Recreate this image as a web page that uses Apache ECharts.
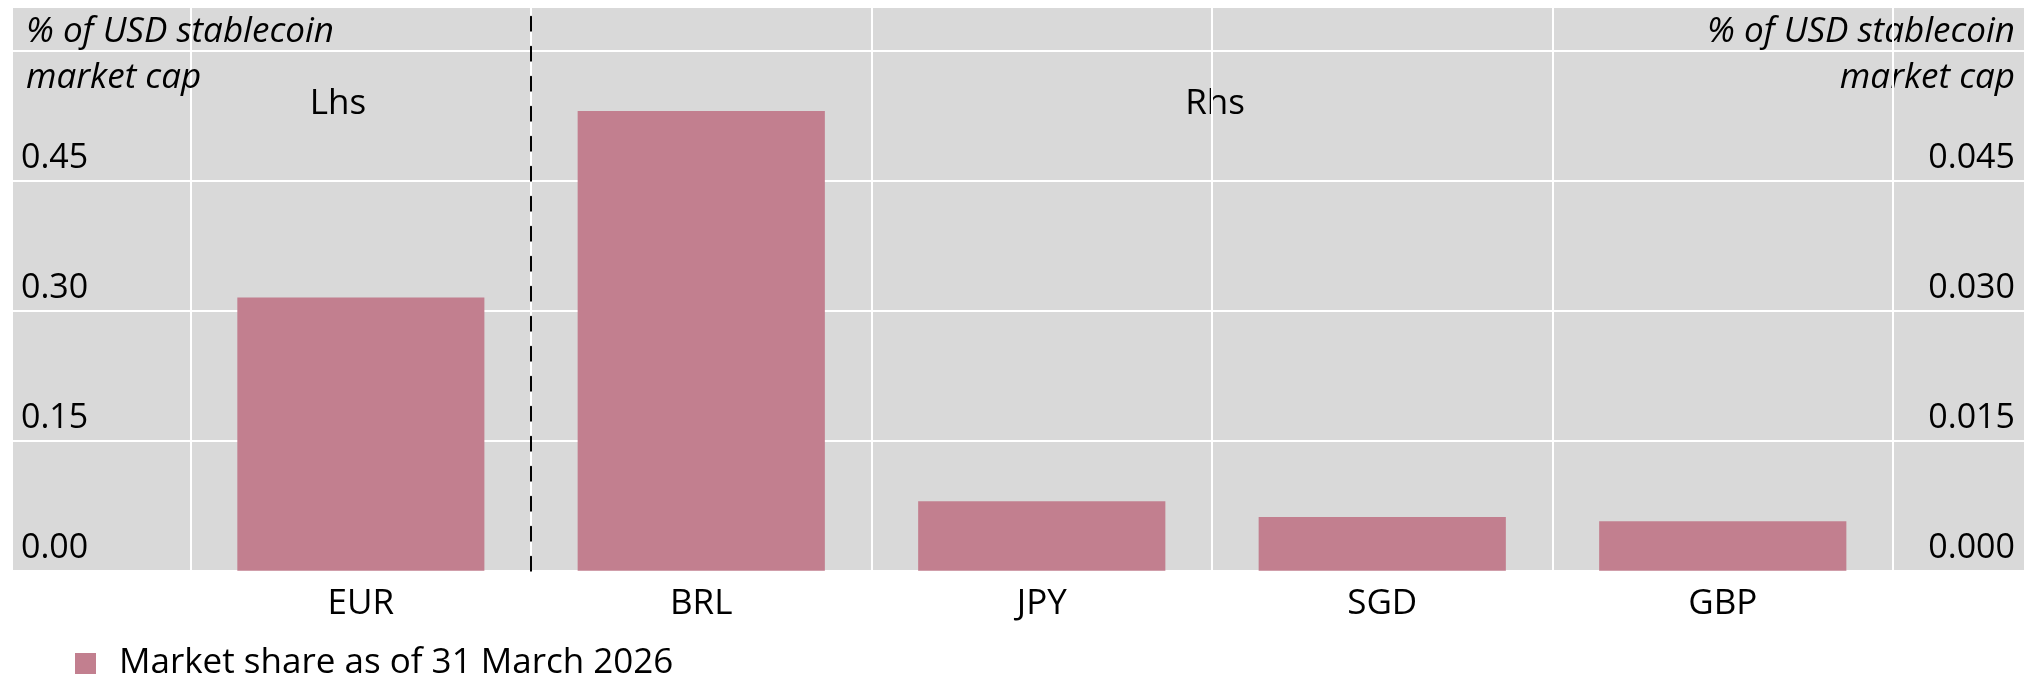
<!DOCTYPE html>
<html>
<head>
<meta charset="utf-8">
<script src="https://cdn.jsdelivr.net/npm/echarts@6/dist/echarts.min.js"></script>
<style>
  html, body { margin: 0; padding: 0; background: #fff; }
  #chart { width: 2030px; height: 679px; }
</style>
</head>
<body>
<div id="chart"></div>
<script>
// Datos
const categoriesLhs = ["EUR"];
const valuesLhs = [0.315];
const categoriesRhs = ["BRL", "JPY", "SGD", "GBP"];
const valuesRhs = [0.053, 0.008, 0.0062, 0.0057];
const leftTickLabels = ["0.00", "0.15", "0.30", "0.45"];
const rightTickLabels = ["0.000", "0.015", "0.030", "0.045"];
const seriesName = "Market share as of 31 March 2026";
const unitLabel = "% of USD stablecoin\nmarket cap";

const FONT = "'Open Sans', 'Noto Sans', sans-serif";
const BAR_COLOR = "#c27f8f";
const TOP = 7, BOTTOM = 108.3;

const chart = echarts.init(document.getElementById("chart"));

const gridLine = { show: true, lineStyle: { color: "#ffffff", width: 2 } };
const catLabel = { fontFamily: FONT, fontSize: 35, color: "#000", margin: 16 };

const option = {
  animation: false,
  backgroundColor: "#ffffff",
  textStyle: { fontFamily: FONT },

  grid: [
    // fondo gris + líneas horizontales
    { left: 13, right: 6, top: TOP, bottom: BOTTOM, show: true, backgroundColor: "#d9d9d9", borderWidth: 0 },
    // Lhs
    { left: 190.7, right: 2030 - 531, top: TOP, bottom: BOTTOM },
    // Rhs
    { left: 531, right: 2030 - 1893, top: TOP, bottom: BOTTOM }
  ],

  xAxis: [
    { gridIndex: 0, type: "value", min: 0, max: 1, show: false },
    {
      gridIndex: 1, type: "category", data: categoriesLhs,
      axisLine: { show: false }, axisTick: { show: false },
      splitLine: gridLine, axisLabel: catLabel
    },
    {
      gridIndex: 2, type: "category", data: categoriesRhs,
      axisLine: { show: false }, axisTick: { show: false },
      splitLine: gridLine, axisLabel: catLabel
    }
  ],

  yAxis: [
    {
      gridIndex: 0, type: "value", position: "left", min: 0, max: 0.65, interval: 0.15,
      axisLine: { show: false }, axisTick: { show: false },
      splitLine: gridLine,
      axisLabel: {
        inside: true, margin: 8, fontFamily: FONT, fontSize: 34, color: "#000",
        verticalAlign: "bottom", lineHeight: 45,
        formatter: (v, i) => leftTickLabels[i] || ""
      }
    },
    {
      gridIndex: 0, type: "value", position: "right", min: 0, max: 0.065, interval: 0.015,
      axisLine: { show: false }, axisTick: { show: false },
      splitLine: { show: false },
      axisLabel: {
        inside: true, margin: 9, fontFamily: FONT, fontSize: 34, color: "#000",
        verticalAlign: "bottom", lineHeight: 45,
        formatter: (v, i) => rightTickLabels[i] || ""
      }
    },
    {
      gridIndex: 1, type: "value", min: 0, max: 0.65, show: false, splitLine: { show: false }
    },
    {
      // eje derecho de la parte Rhs: su línea hace de separador discontinuo
      gridIndex: 2, type: "value", position: "left", min: 0, max: 0.065, z: 3,
      axisLine: { show: true, lineStyle: { color: "#000", width: 2, type: [14, 16] } },
      axisTick: { show: false }, axisLabel: { show: false }, splitLine: { show: false }
    }
  ],

  title: {
    text: unitLabel, left: 26, top: 9, padding: 0,
    textStyle: { fontFamily: FONT, fontStyle: "italic", fontWeight: "normal", fontSize: 35, lineHeight: 46, color: "#000" }
  },

  graphic: [
    {
      type: "text", x: 2015, y: 9,
      style: { text: unitLabel, font: "italic 35px " + FONT, lineHeight: 46, fill: "#000", align: "right", verticalAlign: "top" }
    },
    { type: "text", x: 338, y: 104, style: { text: "Lhs", font: "35px " + FONT, fill: "#000", align: "center", verticalAlign: "middle" } },
    { type: "text", x: 1215, y: 104, style: { text: "Rhs", font: "35px " + FONT, fill: "#000", align: "center", verticalAlign: "middle" } }
  ],

  legend: {
    left: 70, top: 641, icon: "rect", itemWidth: 21, itemHeight: 21,
    data: [seriesName],
    textStyle: { fontFamily: FONT, fontSize: 35, color: "#000", padding: [0, 0, 0, 18] }
  },

  series: [
    {
      name: seriesName, type: "bar", xAxisIndex: 1, yAxisIndex: 2,
      data: valuesLhs, barCategoryGap: "27.4%", itemStyle: { color: BAR_COLOR }
    },
    {
      name: seriesName, type: "bar", xAxisIndex: 2, yAxisIndex: 3,
      data: valuesRhs, barCategoryGap: "27.4%", itemStyle: { color: BAR_COLOR }
    }
  ]
};

chart.setOption(option);
</script>
</body>
</html>
